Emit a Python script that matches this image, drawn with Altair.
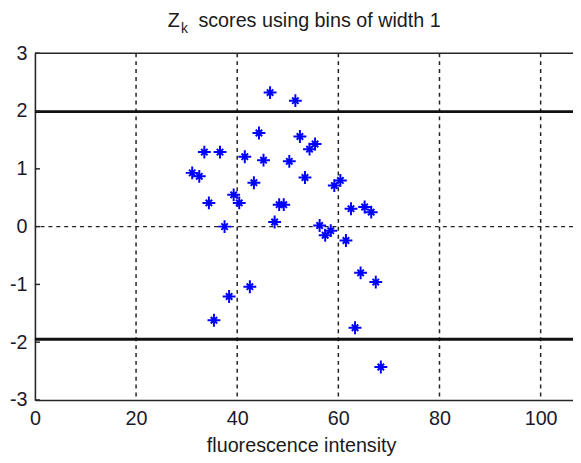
import altair as alt
import pandas as pd

# ---- data ----
x_vals = [46.5, 51.5, 44.3, 52.4, 55.4, 54.3, 33.5, 36.6, 41.5, 45.2,
          50.3, 31.1, 32.5, 43.3, 53.4, 60.4, 59.2, 39.3, 40.4, 34.4,
          48.3, 49.2, 62.5, 65.2, 66.5, 47.4, 37.5, 56.3, 58.5, 57.4,
          61.5, 35.4, 38.4, 42.5, 64.4, 67.4, 63.3, 68.4]
z_vals = [2.32, 2.18, 1.62, 1.56, 1.43, 1.34, 1.29, 1.29, 1.21, 1.15,
          1.13, 0.93, 0.87, 0.76, 0.85, 0.80, 0.71, 0.55, 0.41, 0.41,
          0.38, 0.38, 0.31, 0.34, 0.25, 0.08, 0.00, 0.02, -0.07, -0.15,
          -0.24, -1.62, -1.21, -1.04, -0.80, -0.96, -1.75, -2.43]
x_ticks = [0, 20, 40, 60, 80, 100]
y_ticks = [-3, -2, -1, 0, 1, 2, 3]
grid_x = [20, 40, 60, 80, 100]
thresholds = [1.99, -1.95]
zero_line = [0]
title_main = "scores using bins of width 1"
x_title = "fluorescence intensity"

X_MAX = 106.4
FONT = "Liberation Sans"

pts = pd.DataFrame({"x": x_vals, "z": z_vals})
grid_df = pd.DataFrame({"x": grid_x})
thr_df = pd.DataFrame({"y": thresholds})
zero_df = pd.DataFrame({"y": zero_line})
top_df = pd.DataFrame({"y": [y_ticks[-1]]})
tick_df = pd.DataFrame({"y": y_ticks, "x0": [0] * len(y_ticks), "x1": [1.0] * len(y_ticks)})
one = pd.DataFrame({"a": [0]})

xs = alt.Scale(domain=[0, X_MAX], nice=False, zero=False)
ys = alt.Scale(domain=[y_ticks[0], y_ticks[-1]], nice=False, zero=False)

x_axis = alt.Axis(values=x_ticks, labelExpr="'' + datum.value", grid=False, ticks=False, domain=True,
                  domainColor="#262626", domainWidth=1.6,
                  labelFont=FONT, labelFontSize=20, labelColor="#1a1a2a",
                  labelPadding=9, labelFlush=False, labelOverlap=False,
                  title=x_title, titleFont=FONT, titleFontSize=20,
                  titleFontWeight="normal", titleColor="#1a1a1a",
                  titleBaseline="alphabetic", titleY=52.7, titleX=270)
y_axis = alt.Axis(values=y_ticks, labelExpr="'' + datum.value", grid=False, ticks=False, domain=True,
                  domainColor="#262626", domainWidth=1.6,
                  labelFont=FONT, labelFontSize=20, labelColor="#1a1a2a",
                  labelPadding=8, labelFlush=False, labelOverlap=False,
                  labelBaseline="middle", title=None)

grid = alt.Chart(grid_df).mark_rule(color="#222222", strokeWidth=1.5,
                                    strokeDash=[4, 4]).encode(
    x=alt.X("x:Q", scale=xs, axis=x_axis))
zero = alt.Chart(zero_df).mark_rule(color="#222222", strokeWidth=1.5,
                                    strokeDash=[4, 4]).encode(
    y=alt.Y("y:Q", scale=ys, axis=y_axis))
thr = alt.Chart(thr_df).mark_rule(color="#111111", strokeWidth=3).encode(
    y=alt.Y("y:Q", scale=ys))
top = alt.Chart(top_df).mark_rule(color="#262626", strokeWidth=1.6).encode(
    y=alt.Y("y:Q", scale=ys))
ticks = alt.Chart(tick_df).mark_rule(color="#262626", strokeWidth=1.5).encode(
    x=alt.X("x0:Q", scale=xs), x2="x1:Q", y=alt.Y("y:Q", scale=ys))

star = "M-1,0L1,0M0,-1L0,1M-0.5,-0.5L0.5,0.5M-0.5,0.5L0.5,-0.5"
points = alt.Chart(pts).mark_point(shape=star, size=170, filled=False,
                                   color="#0000ff", strokeWidth=2,
                                   opacity=1).encode(
    x=alt.X("x:Q", scale=xs), y=alt.Y("z:Q", scale=ys))

t_z = alt.Chart(one).mark_text(text="Z", font=FONT, fontSize=20, align="left",
                               baseline="alphabetic", color="#1a1a1a").encode(
    x=alt.value(134.7), y=alt.value(-26.7))
t_k = alt.Chart(one).mark_text(text="k", font=FONT, fontSize=14, align="left",
                               baseline="alphabetic", color="#1a1a1a").encode(
    x=alt.value(148.2), y=alt.value(-21))
t_rest = alt.Chart(one).mark_text(text=title_main, font=FONT, fontSize=20,
                                  align="left", baseline="alphabetic",
                                  color="#1a1a1a").encode(
    x=alt.value(165.8), y=alt.value(-26.7))

chart = alt.layer(grid, zero, thr, top, ticks, points, t_z, t_k, t_rest).properties(
    width=545.7, height=351.6,
    autosize=alt.AutoSizeParams(type="none"),
    padding={"left": 27.3, "top": 42.7, "right": 0, "bottom": 60},
    background="white",
).configure_view(stroke=None)

chart.save("out.html", embed_options={"renderer": "svg", "actions": False})
